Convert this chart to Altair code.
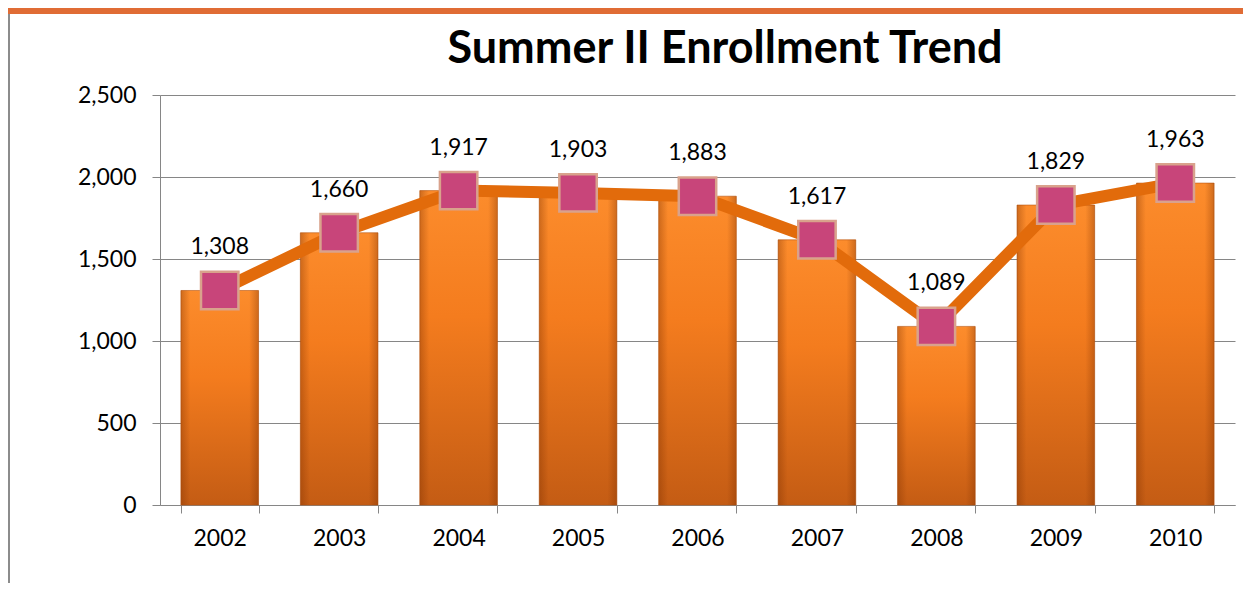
import altair as alt
import pandas as pd

years = ["2002", "2003", "2004", "2005", "2006", "2007", "2008", "2009", "2010"]
enrollment = [1308, 1660, 1917, 1903, 1883, 1617, 1089, 1829, 1963]
y_ticks = [0, 500, 1000, 1500, 2000, 2500]
title_text = "Summer II Enrollment Trend"

df = pd.DataFrame({"year": years, "enrollment": enrollment})
one = pd.DataFrame({"k": [0]})

FONT = "Lato"

x_enc = alt.X("year:N", sort=years, title=None,
              scale=alt.Scale(paddingInner=0.35, paddingOuter=0.175),
              axis=alt.Axis(labelAngle=0, labelFontSize=23, labelFont=FONT, labelColor="#000000",
                            tickBand="extent", tickSize=8, tickColor="#868686", domainColor="#868686",
                            labelPadding=14, grid=False))
y_enc = alt.Y("enrollment:Q", title=None,
              scale=alt.Scale(domain=[0, 2500], nice=False),
              axis=alt.Axis(values=y_ticks, format=",d", labelFontSize=23, labelFont=FONT,
                            labelColor="#000000", tickSize=8, tickColor="#868686",
                            domainColor="#868686", gridColor="#868686", gridWidth=1,
                            labelPadding=16))

base = alt.Chart(df)

bars = base.mark_bar(
    color=alt.Gradient(gradient="linear", x1=0, x2=0, y1=0, y2=1,
                       stops=[alt.GradientStop(color="#fc8c2c", offset=0),
                              alt.GradientStop(color="#f47c1e", offset=0.4),
                              alt.GradientStop(color="#c45c14", offset=1)]),
    stroke="#b85614", strokeWidth=1, strokeOpacity=0.6
).encode(x=x_enc, y=y_enc)

edges = base.mark_bar(
    color=alt.Gradient(gradient="linear", x1=0, x2=1, y1=0, y2=0,
                       stops=[alt.GradientStop(color="rgba(120,45,0,0.35)", offset=0),
                              alt.GradientStop(color="rgba(120,45,0,0)", offset=0.12),
                              alt.GradientStop(color="rgba(120,45,0,0)", offset=0.88),
                              alt.GradientStop(color="rgba(120,45,0,0.35)", offset=1)])
).encode(x=x_enc, y=y_enc)

line = base.mark_line(color="#e26b0b", strokeWidth=12).encode(x=x_enc, y=y_enc)

points = base.mark_point(shape="square", filled=True, size=1400, color="#c8457a",
                         stroke="#d9a28c", strokeWidth=2.5, opacity=1).encode(x=x_enc, y=y_enc)

labels = base.mark_text(fontSize=23, font=FONT, color="#000000", dy=-43, baseline="middle").encode(
    x=x_enc, y=y_enc,
    text=alt.Text("enrollment:Q", format=",d"))

title = alt.Chart(one).mark_text(text=title_text, fontSize=45, font=FONT, fontWeight="bold",
                                 color="#000000", baseline="alphabetic", align="center").encode(
    x=alt.value(565), y=alt.value(-32))

top_bar = alt.Chart(one).mark_rect(color="#e06c35").encode(
    x=alt.value(-152), x2=alt.value(1091), y=alt.value(-87), y2=alt.value(-81))

left_border = alt.Chart(one).mark_rule(color="#8c8c8c", strokeWidth=2).encode(
    x=alt.value(-151), y=alt.value(-81), y2=alt.value(488))

chart = alt.layer(top_bar, left_border, bars, edges, line, points, labels, title).properties(
    width=1075, height=410,
    autosize=alt.AutoSizeParams(type="none"),
    padding={"left": 152, "top": 87, "right": 8, "bottom": 78},
    background="white"
).configure_view(stroke=None)

chart.save("out.html", embed_options={"renderer": "svg", "actions": False})
